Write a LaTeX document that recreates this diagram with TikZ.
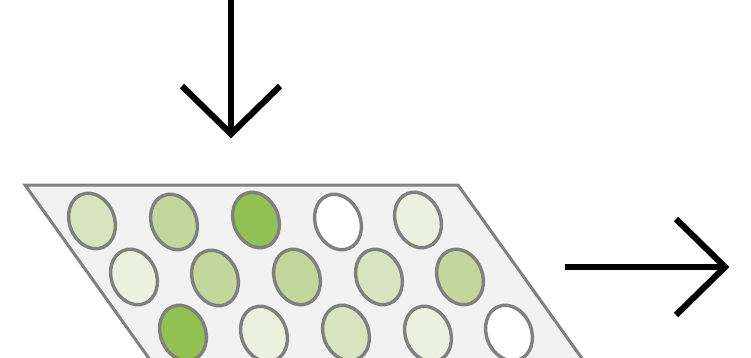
\documentclass[tikz,border=0pt]{standalone}
\usetikzlibrary{shapes.geometric}
\begin{document}
\begin{tikzpicture}[x=1pt,y=-1pt,
  well/.style={draw=wellgray,line width=3.4pt,ellipse,minimum width=45pt,minimum height=57pt,inner sep=0pt,rotate=22},
  plate/.style={draw=wellgray,line width=3pt,fill=platefill,line join=miter},
  bigarrow/.style={draw=black,line width=6.2pt,line join=miter,miter limit=10}]
\definecolor{wellgray}{HTML}{808080}
\definecolor{platefill}{HTML}{F2F2F2}
\definecolor{gA}{HTML}{EBF1DE}
\definecolor{gB}{HTML}{D7E4BD}
\definecolor{gC}{HTML}{C3D69B}
\definecolor{gD}{HTML}{93C052}
\useasboundingbox (0,0) rectangle (751,358);
\clip (0,0) rectangle (751,358);
% plate
\coordinate (p1) at (25,185);
\coordinate (p2) at (458,185);
\coordinate (p3) at (601,385);
\coordinate (p4) at (168,385);
\draw[plate] (p1) -- (p2) -- (p3) -- (p4) -- cycle;
% row 1
\node[well,fill=gB] (w11) at (92,221) {};
\node[well,fill=gC] (w12) at (174,222) {};
\node[well,fill=gD] (w13) at (256,220) {};
\node[well,fill=white] (w14) at (338,222) {};
\node[well,fill=gA] (w15) at (418,220) {};
% row 2
\node[well,fill=gA] (w21) at (134,277) {};
\node[well,fill=gC] (w22) at (215,278) {};
\node[well,fill=gC] (w23) at (297,277) {};
\node[well,fill=gB] (w24) at (379,277) {};
\node[well,fill=gC] (w25) at (460,277) {};
% row 3
\node[well,fill=gD] (w31) at (183,333) {};
\node[well,fill=gA] (w32) at (264,334) {};
\node[well,fill=gB] (w33) at (346,333) {};
\node[well,fill=gA] (w34) at (428,334) {};
\node[well,fill=white] (w35) at (509,333) {};
% down arrow
\coordinate (dtop) at (231,-5);
\coordinate (dtip) at (231,134);
\coordinate (dl) at (182,86);
\coordinate (dr) at (280,86);
\draw[bigarrow] (dtop) -- (dtip);
\draw[bigarrow] (dl) -- (dtip) -- (dr);
% right arrow
\coordinate (rstart) at (565,267);
\coordinate (rtip) at (725,267);
\coordinate (ru) at (676,219);
\coordinate (rd) at (676,315);
\draw[bigarrow] (rstart) -- (rtip);
\draw[bigarrow] (ru) -- (rtip) -- (rd);
\end{tikzpicture}
\end{document}
